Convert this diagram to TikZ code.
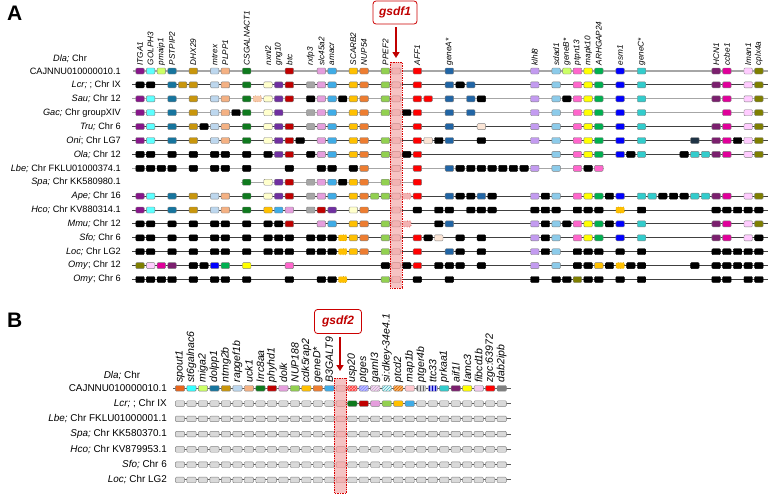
\documentclass[tikz,border=0pt]{standalone}
\usepackage{fontspec}
\setmainfont{Liberation Sans}
\usetikzlibrary{arrows.meta,patterns}
\newcommand\gstyle[2]{\definecolor{c#1}{HTML}{#2}\tikzset{s#1/.style={fill=c#1}}}
\gstyle{Itga}{87168A}
\gstyle{Golph}{5CFFFF}
\gstyle{Pmaip}{CCFF66}
\gstyle{Pstp}{17759E}
\gstyle{Dhx}{C9960C}
\gstyle{Mtrex}{BDD7EE}
\gstyle{Plpp}{F4B183}
\gstyle{Csg}{0F7A1E}
\gstyle{Nxnl}{FFFFCC}
\gstyle{Gng}{7030A0}
\gstyle{Btc}{C00000}
\gstyle{Rxfp}{A6A6A6}
\gstyle{Slc}{E59EDD}
\gstyle{Amacr}{40ACE6}
\gstyle{Scarb}{FFC000}
\gstyle{Nup}{ED7D31}
\gstyle{Ppef}{92D050}
\gstyle{Aff}{FF0000}
\gstyle{Genea}{2165A5}
\gstyle{Klhl}{C39BF0}
\gstyle{Sdad}{8CCBEA}
\gstyle{Geneb}{CCFF66}
\gstyle{Ptpn}{FF66CC}
\gstyle{Mapk}{FFFF00}
\gstyle{Arhgap}{00B050}
\gstyle{Esm}{0000FF}
\gstyle{Genec}{33CCCC}
\gstyle{Hcn}{7B1F6E}
\gstyle{Ccbe}{E0009A}
\gstyle{Lman}{FFCCFF}
\gstyle{Cplx}{7F7F00}
\gstyle{Peach}{FBE5D6}
\gstyle{Navy}{1F3345}
\gstyle{Spout}{E8641B}
\gstyle{Stgal}{33FFFF}
\gstyle{Mapb}{FFC7CE}
\gstyle{Prkaa}{33CCCC}
\gstyle{Fibcd}{F2CCEE}
\gstyle{Dab}{808080}
\definecolor{cGsdf}{HTML}{F2B3B3}
\definecolor{cGsdfEdge}{HTML}{C98C8C}
\definecolor{cCol}{HTML}{F4B8B8}
\definecolor{cRed}{HTML}{C00000}
\definecolor{cLineL}{HTML}{A6A6A6}
\definecolor{cLineD}{HTML}{404040}
\definecolor{cEdge}{HTML}{808080}
\definecolor{cGray}{HTML}{D9D9D9}
\tikzset{
  gbox/.style={draw=cEdge, line width=0.4pt, rounded corners=1pt, minimum width=8.5pt, minimum height=6pt, inner sep=0pt},
  gboxB/.style={gbox, minimum width=9.3pt, minimum height=5.6pt},
  sBlk/.style={fill=black, draw=black},
  sGsdf/.style={fill=cGsdf, draw=cGsdfEdge},
  sGsdfD/.style={fill=cGsdf, draw=red!85!black, dotted, line width=0.7pt},
  sScarbD/.style={fill=cScarb, draw=cScarb!70!black, dotted, line width=0.7pt},
  sPlppD/.style={fill=cPlpp!70!white, draw=cPlpp!80!black, dotted, line width=0.7pt},
  sGray/.style={fill=cGray, draw=cEdge},
  sUsp/.style={fill=red!30!white, postaction={pattern=crosshatch, pattern color=red!80!white}},
  sPtges/.style={fill=blue!25!white, postaction={pattern=north east lines, pattern color=blue!50!white}},
  sGarnl/.style={fill=violet!12!white, postaction={pattern=north east lines, pattern color=violet!40!white}},
  sSidk/.style={fill=cyan!12!white, postaction={pattern=north east lines, pattern color=cyan!45!gray}},
  sPtcd/.style={fill=orange!60!white, postaction={pattern=north east lines, pattern color=orange!80!black}},
  sPtger/.style={fill=cGray, postaction={pattern=vertical lines, pattern color=black!60}},
  sTtc/.style={fill=blue!35!white, postaction={pattern=vertical lines, pattern color=blue!70!black}},
  chrL/.style={draw=cLineL, line width=1.3pt},
  chrD/.style={draw=cLineD, line width=1pt},
  chrB/.style={draw=black!65, line width=1pt},
  glab/.style={rotate=90, anchor=west, inner sep=0.5pt, font=\itshape\fontsize{8.2}{8.2}\selectfont},
  glabB/.style={glab, font=\itshape\fontsize{10.5}{10.5}\selectfont},
  rlab/.style={anchor=east, inner sep=0pt, font=\fontsize{9.2}{9.2}\selectfont},
  rlabB/.style={rlab, font=\fontsize{9.9}{9.9}\selectfont},
  clab/.style={inner sep=0pt, font=\fontsize{9.2}{9.2}\selectfont},
  clabB/.style={inner sep=0pt, font=\fontsize{9.9}{9.9}\selectfont},
  panel/.style={anchor=base west, inner sep=0pt, font=\bfseries\fontsize{21}{21}\selectfont},
  lblbox/.style={draw=red!80!black, line width=0.8pt, rounded corners=3pt, fill=white, text=cRed, font=\bfseries\itshape\fontsize{12}{12}\selectfont, minimum width=44pt, minimum height=23pt, inner sep=0pt},
  garrow/.style={draw=cRed, line width=2pt, -{Triangle[length=6pt,width=7pt]}},
  gcol/.style={fill=cCol, fill opacity=0.85, draw=red!85!black, densely dotted, line width=0.7pt}
}
\newcommand\myArow[2]{%
  \foreach \k/\s in {#2}{\node[gbox,\s] (a#1k\k) at ({140+10.67*\k},{71+13.9*#1}) {};}%
  \node[gbox,sGsdf] (a#1g) at ({140+10.67*24},{71+13.9*#1}) {};}
\newcommand\myBrow[2]{%
  \foreach \k/\s in {#2}{\node[gboxB,\s] (b#1k\k) at ({180+11.49*\k},{388.3+15.28*#1}) {};}%
  \node[gboxB,sGsdf] (b#1g) at ({180+11.49*14},{388.3+15.28*#1}) {};}
\begin{document}
\begin{tikzpicture}[x=1pt,y=-1pt]
\useasboundingbox (0,0) rectangle (770,501);
% ---------------- Panel A ----------------
\node[panel] (pA) at (7,20) {A};
\foreach \r/\xa/\xb/\st in {0/133/768/chrL,1/132/768/chrD,2/132/768/chrL,3/132/768/chrL,4/132/768/chrD,5/132/768/chrD,6/132/768/chrD,7/132/604/chrL,8/241/422/chrL,9/132/768/chrD,10/132/768/chrD,11/132/768/chrD,12/132/768/chrD,13/132/768/chrD,14/132/768/chrD,15/132/768/chrD}
  {\coordinate (as\r) at (\xa,{71+13.9*\r}); \coordinate (ae\r) at (\xb,{71+13.9*\r}); \draw[\st] (as\r) -- (ae\r);}
\draw[gcol] (390,62) rectangle (402,288);
\foreach \k/\t in {0/ITGA1,1/GOLPH3,2/pmaip1,3/PSTPIP2,5/DHX29,7/mtrex,8/PLPP1,10/CSGALNACT1,12/nxnl2,13/gng10,14/btc,16/rxfp3,17/slc45a2,18/amacr,20/SCARB2,21/NUP54,23/PPEF2,26/AFF1,29/geneA*,37/klhl8,39/sdad1,40/geneB*,41/ptpn13,42/mapk10,43/ARHGAP24,45/esm1,47/geneC*,54/HCN1,55/ccbe1,57/lman1,58/cplx4a}
  {\node[glab] (la\k) at ({140+10.67*\k},66) {\t};}
\myArow{0}{0/sItga,1/sGolph,2/sPmaip,3/sPstp,5/sDhx,7/sMtrex,8/sPlpp,10/sCsg,14/sBtc,17/sSlc,18/sAmacr,20/sScarb,21/sNup,23/sPpef,26/sAff,29/sGenea,37/sKlhl,39/sSdad,40/sGeneb,41/sPtpn,42/sMapk,43/sArhgap,45/sEsm,47/sGenec,54/sHcn,55/sCcbe,57/sLman,58/sCplx}
\myArow{1}{0/sBlk,1/sBlk,3/sPstp,4/sDhx,5/sDhx,7/sMtrex,8/sPlpp,10/sCsg,12/sNxnl,13/sGng,14/sBtc,16/sRxfp,17/sSlc,18/sAmacr,20/sScarb,21/sNup,23/sPpef,26/sAff,29/sGenea,30/sBlk,31/sGenea,37/sKlhl,39/sSdad,41/sPtpn,42/sMapk,43/sArhgap,45/sEsm,47/sGenec,54/sHcn,55/sCcbe,57/sLman,58/sCplx}
\myArow{2}{0/sItga,1/sGolph,3/sPstp,5/sDhx,7/sMtrex,8/sPlpp,10/sCsg,11/sPlppD,12/sNxnl,13/sGng,14/sBtc,16/sBlk,17/sSlc,18/sAmacr,19/sBlk,20/sScarb,21/sNup,23/sPpef,26/sAff,27/sAff,29/sGenea,31/sGenea,32/sBlk,37/sKlhl,39/sSdad,40/sBlk,41/sPtpn,42/sMapk,43/sArhgap,45/sEsm,47/sGenec,54/sHcn,55/sCcbe,57/sLman,58/sCplx}
\myArow{3}{0/sItga,1/sGolph,3/sPstp,5/sDhx,7/sMtrex,8/sPlpp,9/sBlk,10/sCsg,12/sNxnl,13/sGng,16/sRxfp,17/sSlc,18/sAmacr,20/sScarb,21/sNup,23/sPpef,25/sBlk,26/sAff,29/sGenea,31/sGenea,37/sKlhl,39/sSdad,41/sPtpn,42/sMapk,43/sArhgap,45/sEsm,47/sGenec,55/sCcbe,57/sLman,58/sCplx}
\myArow{4}{0/sItga,1/sGolph,3/sPstp,5/sDhx,6/sBlk,7/sMtrex,8/sPlpp,10/sCsg,12/sNxnl,13/sGng,14/sBtc,16/sRxfp,17/sSlc,18/sAmacr,20/sScarb,21/sNup,26/sAff,29/sGenea,32/sPeach,37/sKlhl,39/sSdad,41/sPtpn,42/sMapk,43/sArhgap,45/sEsm,47/sGenec,54/sHcn,55/sCcbe,57/sLman,58/sCplx}
\myArow{5}{0/sItga,1/sGolph,3/sPstp,5/sDhx,7/sMtrex,8/sPlpp,10/sCsg,12/sNxnl,13/sGng,14/sBtc,15/sBlk,17/sSlc,18/sAmacr,20/sScarb,21/sNup,23/sPpef,26/sAff,27/sPeach,28/sBlk,29/sGenea,32/sBlk,37/sKlhl,39/sSdad,41/sPtpn,42/sMapk,43/sArhgap,45/sEsm,47/sGenec,52/sNavy,54/sHcn,55/sCcbe,56/sBlk,57/sLman,58/sCplx}
\myArow{6}{0/sBlk,1/sBlk,3/sBlk,5/sBlk,7/sBlk,8/sBlk,10/sBlk,12/sBlk,13/sGng,14/sBtc,16/sBlk,17/sSlc,18/sAmacr,20/sScarb,21/sNup,23/sPpef,25/sBlk,26/sAff,39/sSdad,41/sPtpn,42/sMapk,43/sArhgap,45/sEsm,46/sBlk,47/sGenec,51/sBlk,52/sGenec,53/sGenec,54/sHcn,55/sCcbe,57/sLman,58/sCplx}
\myArow{7}{0/sBlk,1/sBlk,2/sBlk,3/sBlk,5/sBlk,7/sBlk,8/sBlk,10/sBlk,14/sBlk,17/sBlk,18/sBlk,20/sBlk,21/sNup,26/sAff,29/sGenea,30/sBlk,31/sBlk,32/sBlk,33/sBlk,34/sBlk,35/sBlk,36/sBlk,37/sKlhl,39/sSdad,41/sPtpn,42/sBlk,43/sPtpn}
\myArow{8}{10/sCsg,12/sNxnl,13/sGng,14/sBtc,16/sRxfp,17/sSlc,18/sAmacr,19/sBlk,20/sScarb,21/sNup,23/sPpef,26/sAff}
\myArow{9}{0/sItga,1/sGolph,3/sPstp,5/sDhx,7/sMtrex,8/sPlpp,10/sCsg,12/sNxnl,13/sGng,14/sBtc,16/sRxfp,17/sSlc,18/sAmacr,20/sScarb,21/sNup,22/sPpef,23/sPpef,25/sGsdfD,26/sAff,29/sGenea,30/sBlk,31/sBlk,32/sGenea,33/sBlk,37/sKlhl,38/sBlk,39/sSdad,41/sPtpn,42/sMapk,43/sArhgap,44/sBlk,45/sEsm,47/sGenec,48/sGenec,49/sBlk,50/sBlk,51/sBlk,52/sGenec,53/sGenec,54/sHcn,55/sCcbe,57/sLman,58/sCplx}
\myArow{10}{0/sItga,1/sGolph,3/sPstp,5/sDhx,7/sMtrex,8/sPlpp,10/sCsg,12/sScarb,13/sAmacr,14/sSlc,16/sRxfp,17/sBtc,18/sGng,20/sNxnl,21/sNup,26/sBlk,28/sBlk,29/sBlk,31/sBlk,32/sBlk,33/sBlk,37/sBlk,38/sBlk,39/sBlk,41/sBlk,42/sBlk,43/sBlk,45/sScarbD,47/sBlk,54/sBlk,55/sBlk,56/sBlk,57/sBlk,58/sBlk}
\myArow{11}{0/sBlk,1/sBlk,3/sBlk,5/sBlk,7/sBlk,8/sBlk,10/sBlk,12/sBlk,13/sBlk,14/sBtc,17/sSlc,18/sAmacr,20/sScarb,21/sNup,23/sPpef,25/sGsdfD,28/sBlk,29/sGenea,37/sKlhl,38/sBlk,39/sSdad,40/sBlk,41/sPtpn,42/sMapk,43/sArhgap,44/sBlk,45/sEsm,47/sGenec,54/sHcn,55/sCcbe,57/sLman,58/sCplx}
\myArow{12}{0/sBlk,1/sBlk,3/sBlk,5/sBlk,7/sBlk,8/sBlk,10/sBlk,12/sBlk,13/sBlk,14/sBlk,16/sBlk,17/sBlk,18/sBlk,19/sScarbD,20/sScarb,21/sNup,23/sPpef,26/sAff,27/sBlk,28/sPeach,30/sBlk,32/sBlk,37/sKlhl,38/sBlk,39/sSdad,41/sPtpn,42/sMapk,43/sArhgap,45/sEsm,47/sGenec,54/sHcn,55/sCcbe,57/sLman,58/sBlk}
\myArow{13}{0/sBlk,1/sBlk,3/sBlk,5/sBlk,7/sBlk,8/sBlk,10/sBlk,12/sBlk,13/sBlk,14/sBlk,16/sBlk,17/sBlk,18/sBlk,19/sScarbD,20/sScarb,21/sNup,23/sPpef,26/sAff,29/sGenea,30/sBlk,32/sBlk,37/sKlhl,38/sBlk,39/sSdad,41/sBlk,42/sBlk,43/sBlk,45/sBlk,47/sBlk,54/sBlk,55/sBlk,56/sBlk,57/sBlk,58/sBlk}
\myArow{14}{0/sCplx,1/sLman,2/sCcbe,3/sHcn,5/sBlk,6/sBlk,7/sEsm,8/sArhgap,10/sMapk,14/sPtpn,23/sBlk,25/sBlk,26/sAff,28/sBlk,29/sBlk,30/sBlk,32/sBlk,37/sKlhl,39/sSdad,41/sBlk,42/sBlk,43/sScarb,44/sBlk,45/sScarbD,46/sBlk,47/sBlk,52/sBlk,54/sBlk,55/sBlk,56/sBlk,57/sBlk,58/sBlk}
\myArow{15}{0/sBlk,1/sBlk,2/sBlk,3/sBlk,5/sBlk,7/sBlk,8/sBlk,10/sBlk,14/sBlk,17/sBlk,18/sBlk,19/sScarbD,23/sPpef,26/sBlk,29/sBlk,37/sBlk,39/sBlk,40/sBlk,41/sCplx,42/sBlk,43/sBlk,45/sBlk,47/sBlk,54/sBlk,55/sBlk,57/sBlk,58/sBlk}
% row labels A
\node[clab] (ldla) at (70,59) {\textit{Dla;} Chr};
\node[rlab] (lr0) at (121,71) {CAJNNU010000010.1};
\node[rlab] (lr1) at (121,84.9) {\textit{Lcr;} ; Chr IX};
\node[rlab] (lr2) at (121,98.8) {\textit{Sau;} Chr 12};
\node[rlab] (lr3) at (121,112.7) {\textit{Gac;} Chr groupXIV};
\node[rlab] (lr4) at (121,126.6) {\textit{Tru;} Chr 6};
\node[rlab] (lr5) at (121,140.5) {\textit{Oni}; Chr LG7};
\node[rlab] (lr6) at (121,154.4) {\textit{Ola;} Chr 12};
\node[rlab] (lr7) at (121,168.3) {\textit{Lbe;} Chr FKLU01000374.1};
\node[rlab] (lr8) at (121,182.2) {\textit{Spa;} Chr KK580980.1};
\node[rlab] (lr9) at (121,196.1) {\textit{Ape;} Chr 16};
\node[rlab] (lr10) at (121,210) {\textit{Hco;} Chr KV880314.1};
\node[rlab] (lr11) at (121,223.9) {\textit{Mmu;} Chr 12};
\node[rlab] (lr12) at (121,237.8) {\textit{Sfo;} Chr 6};
\node[rlab] (lr13) at (121,251.7) {\textit{Loc;} Chr LG2};
\node[rlab] (lr14) at (121,265.6) {\textit{Omy}; Chr 12};
\node[rlab] (lr15) at (121,279.5) {\textit{Omy}; Chr 6};
% gsdf1 label
\node[lblbox] (g1) at (395,12.5) {gsdf1};
\coordinate (g1t) at (396,58);
\draw[garrow] ([yshift=-3pt]g1.south -| g1t) -- (g1t);
% ---------------- Panel B ----------------
\node[panel] (pB) at (7,327) {B};
\foreach \r/\xa in {0/173,1/176,2/176,3/176,4/176,5/176,6/176}
  {\coordinate (bs\r) at (\xa,{388.3+15.28*\r}); \coordinate (be\r) at (511,{388.3+15.28*\r}); \draw[chrB] (bs\r) -- (be\r);}
\draw[gcol] (334.3,378) rectangle (346.7,493);
\foreach \k/\t in {0/spout1,1/st6galnac6,2/miga2,3/dolpp1,4/ntmg2b,5/rapgef1b,6/uck1,7/lrrc8aa,8/phyhd1,9/dolk,10/NUP188,11/cdk5rap2,12/geneD*,13/B3GALT9,15/usp20,16/ptges,17/garnl3,18/si:dkey-34e4.1,19/ptcd2,20/map1b,21/ptger4b,22/ttc33,23/prkaa1,24/aif1l,25/lamc3,26/fibcd1b,27/zgc:63972,28/dab2ipb}
  {\node[glabB] (lb\k) at ({180+11.49*\k},383) {\t};}
\myBrow{0}{0/sSpout,1/sStgal,2/sPmaip,3/sPstp,4/sDhx,5/sMtrex,6/sPlpp,7/sCsg,8/sBtc,9/sSlc,10/sPpef,11/sScarb,12/sNup,13/sAmacr,15/sUsp,16/sPtges,17/sGarnl,18/sSidk,19/sPtcd,20/sMapb,21/sPtger,22/sTtc,23/sPrkaa,24/sHcn,25/sMapk,26/sFibcd,27/sAff,28/sDab}
\myBrow{1}{0/sGray,1/sGray,2/sGray,3/sGray,4/sGray,5/sGray,6/sGray,7/sGray,8/sGray,9/sGray,10/sGray,11/sGray,12/sGray,13/sGray,15/sCsg,16/sBtc,17/sSlc,18/sPpef,19/sScarb,20/sAmacr,21/sGray,22/sGray,23/sGray,24/sGray,25/sGray,26/sGray,27/sGray,28/sGray}
\foreach \r in {2,...,6}{\myBrow{\r}{0/sGray,1/sGray,2/sGray,3/sGray,4/sGray,5/sGray,6/sGray,7/sGray,8/sGray,9/sGray,10/sGray,11/sGray,12/sGray,13/sGray,15/sGray,16/sGray,17/sGray,18/sGray,19/sGray,20/sGray,21/sGray,22/sGray,23/sGray,24/sGray,25/sGray,26/sGray,27/sGray,28/sGray}}
\node[clabB] (ldlb) at (122,376) {\textit{Dla;} Chr};
\node[rlabB] (lbr0) at (167,388.3) {CAJNNU010000010.1};
\node[rlabB] (lbr1) at (167,403.58) {\textit{Lcr;} ; Chr IX};
\node[rlabB] (lbr2) at (167,418.86) {\textit{Lbe;} Chr FKLU01000001.1};
\node[rlabB] (lbr3) at (167,434.14) {\textit{Spa;} Chr KK580370.1};
\node[rlabB] (lbr4) at (167,449.42) {\textit{Hco;} Chr KV879953.1};
\node[rlabB] (lbr5) at (167,464.7) {\textit{Sfo;} Chr 6};
\node[rlabB] (lbr6) at (167,479.98) {\textit{Loc;} Chr LG2};
\node[lblbox, minimum width=47pt, minimum height=24pt] (g2) at (338,321.5) {gsdf2};
\coordinate (g2t) at (340,371);
\draw[garrow] ([yshift=-3pt]g2.south -| g2t) -- (g2t);
\end{tikzpicture}
\end{document}
